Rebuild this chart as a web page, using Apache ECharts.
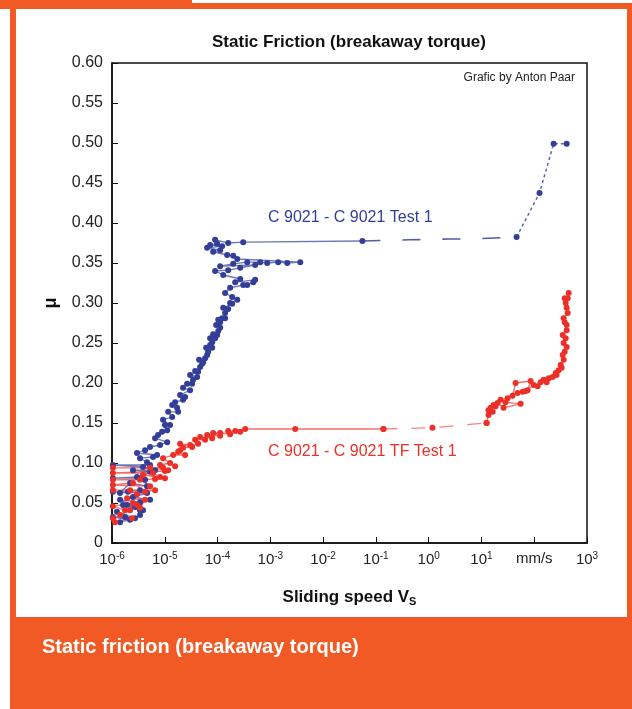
<!DOCTYPE html>
<html>
<head>
<meta charset="utf-8">
<script src="https://cdn.jsdelivr.net/npm/echarts@6.0.0/dist/echarts.min.js"></script>
<style>
  html, body { margin: 0; padding: 0; background: #fff; }
  #chart { width: 632px; height: 709px; }
</style>
</head>
<body>
<div id="chart"></div>
<script>
// sliding speed (mm/s) and friction coefficient
var blueTest = [
  [1.42e-6, 0.026], [2.20e-6, 0.029], [1.04e-6, 0.0325], [1.77e-6, 0.0325], [1.24e-6, 0.039],
  [2.73e-6, 0.031], [3.40e-6, 0.035], [3.40e-6, 0.041], [1.62e-6, 0.0475], [1.93e-6, 0.0475],
  [2.73e-6, 0.045], [3.87e-6, 0.041], [1.42e-6, 0.054], [3.40e-6, 0.051], [5.26e-6, 0.054],
  [2.50e-6, 0.0575], [4.61e-6, 0.0625], [1.04e-6, 0.064], [2.01e-6, 0.064], [3.40e-6, 0.066],
  [1.42e-6, 0.0625], [2.20e-6, 0.075], [4.61e-6, 0.071], [4.23e-6, 0.079], [2.98e-6, 0.0825],
  [1.04e-6, 0.081], [3.40e-6, 0.081], [5.26e-6, 0.089], [2.50e-6, 0.091], [6.55e-6, 0.091],
  [3.87e-6, 0.095], [1.04e-6, 0.0975], [5.26e-6, 0.0975], [4.61e-6, 0.101], [3.40e-6, 0.106],
  [6.00e-6, 0.1075], [7.15e-6, 0.11], [2.98e-6, 0.1125], [4.23e-6, 0.116], [5.26e-6, 0.12],
  [8.15e-6, 0.1225], [1.11e-5, 0.126], [6.55e-6, 0.131], [7.46e-6, 0.135], [8.89e-6, 0.139],
  [1.11e-5, 0.141], [1.01e-5, 0.1475], [1.26e-5, 0.1475], [9.29e-6, 0.154], [1.38e-5, 0.1575],
  [1.16e-5, 0.164], [1.79e-5, 0.164], [1.71e-5, 0.169], [1.38e-5, 0.1725], [1.57e-5, 0.176],
  [2.22e-5, 0.179], [2.43e-5, 0.1825], [1.95e-5, 0.185], [3.02e-5, 0.191], [2.22e-5, 0.194],
  [2.65e-5, 0.199], [3.30e-5, 0.199], [3.44e-5, 0.204], [4.10e-5, 0.2075], [3.02e-5, 0.21],
  [4.28e-5, 0.214], [3.76e-5, 0.215], [4.68e-5, 0.22], [5.11e-5, 0.224], [5.33e-5, 0.226],
  [4.48e-5, 0.229], [5.82e-5, 0.231], [6.35e-5, 0.235], [6.64e-5, 0.239], [6.08e-5, 0.244],
  [7.91e-5, 0.244], [7.24e-5, 0.2475], [7.91e-5, 0.251], [9.00e-5, 0.256], [7.24e-5, 0.256],
  [9.82e-5, 0.26], [8.26e-5, 0.261], [1.03e-4, 0.265], [1.12e-4, 0.269], [9.40e-5, 0.2725],
  [1.12e-4, 0.276], [1.03e-4, 0.279], [1.22e-4, 0.281], [1.39e-4, 0.281], [1.39e-4, 0.2875],
  [1.59e-4, 0.2925], [1.28e-4, 0.294], [1.89e-4, 0.299], [1.73e-4, 0.30], [2.36e-4, 0.304],
  [1.89e-4, 0.3075], [1.39e-4, 0.3125], [1.73e-4, 0.319], [3.06e-4, 0.3225], [3.65e-4, 0.3225],
  [4.74e-4, 0.326], [5.16e-4, 0.329], [2.16e-4, 0.326], [2.69e-4, 0.33], [1.28e-4, 0.335],
  [9.00e-5, 0.34], [1.59e-4, 0.341], [2.69e-4, 0.344], [5.16e-4, 0.3475], [1.12e-4, 0.346],
  [1.98e-4, 0.349], [3.65e-4, 0.351], [6.43e-4, 0.351], [8.73e-4, 0.35], [1.41e-3, 0.351],
  [2.09e-3, 0.35], [3.69e-3, 0.351], [2.36e-4, 0.355], [1.98e-4, 0.359], [1.52e-4, 0.36],
  [8.26e-5, 0.364], [1.12e-4, 0.366], [6.35e-5, 0.369], [1.22e-4, 0.371], [7.24e-5, 0.3725],
  [9.82e-5, 0.374], [9.00e-5, 0.379], [1.59e-4, 0.375], [3.06e-4, 0.376], [5.55e-2, 0.3775]
];
var blueTail = [[5.55e-2, 0.3775], [0.452, 0.379], [2.38, 0.38], [5.69, 0.38], [13.6, 0.381], [46.3, 0.3825]];
var blueTop = [[46.3, 0.3825], [126, 0.4375], [233, 0.499], [412, 0.499]];

var redTest = [
  [1.04e-6, 0.031], [1.14e-6, 0.026], [2.40e-6, 0.031], [1.42e-6, 0.035], [2.20e-6, 0.041],
  [1.77e-6, 0.041], [1.04e-6, 0.046], [2.50e-6, 0.05], [2.98e-6, 0.0475], [3.40e-6, 0.044],
  [4.23e-6, 0.054], [1.93e-6, 0.056], [2.98e-6, 0.061], [2.20e-6, 0.066], [1.04e-6, 0.066],
  [6.55e-6, 0.066], [4.23e-6, 0.064], [2.50e-6, 0.075], [1.04e-6, 0.0725], [5.26e-6, 0.071],
  [3.40e-6, 0.079], [1.04e-6, 0.079], [6.55e-6, 0.08], [1.01e-5, 0.081], [3.87e-6, 0.085],
  [8.15e-6, 0.0825], [6.00e-6, 0.0875], [1.04e-6, 0.0875], [1.01e-5, 0.09], [1.16e-5, 0.091],
  [5.26e-6, 0.094], [1.04e-6, 0.094], [9.29e-6, 0.094], [8.15e-6, 0.0975], [1.26e-5, 0.1],
  [1.57e-5, 0.096], [9.29e-6, 0.106], [1.44e-5, 0.11], [2.43e-5, 0.11], [1.79e-5, 0.114],
  [1.95e-5, 0.116], [2.22e-5, 0.119], [3.30e-5, 0.12], [1.95e-5, 0.124], [3.02e-5, 0.1225],
  [4.28e-5, 0.124], [3.76e-5, 0.129], [5.82e-5, 0.129], [4.68e-5, 0.1325], [7.91e-5, 0.131],
  [6.35e-5, 0.135], [1.12e-4, 0.134], [8.26e-5, 0.1375], [1.12e-4, 0.1375], [1.73e-4, 0.136],
  [1.59e-4, 0.14], [2.69e-4, 0.139], [2.16e-4, 0.14], [3.34e-4, 0.1425], [2.96e-3, 0.1425],
  [0.139, 0.1425]
];
var redTail = [[0.139, 0.1425], [1.18, 0.144], [12.5, 0.15]];
var redHigh = [
  [12.5, 0.15], [13.6, 0.16], [13.6, 0.166], [16.3, 0.164], [14.9, 0.169], [18.5, 0.171],
  [17.0, 0.1725], [20.2, 0.175], [26.2, 0.169], [55.2, 0.174], [28.6, 0.176], [23.0, 0.179],
  [31.3, 0.181], [38.9, 0.184], [44.4, 0.2], [85.5, 0.2025], [75.0, 0.191], [48.4, 0.1875],
  [60.3, 0.189], [68.7, 0.19], [97.5, 0.1975], [116, 0.196], [132, 0.201], [172, 0.201],
  [151, 0.204], [188, 0.206], [223, 0.2075], [266, 0.21], [255, 0.2125], [290, 0.216],
  [331, 0.219], [317, 0.2225], [361, 0.229], [346, 0.235], [378, 0.239], [412, 0.245],
  [361, 0.25], [394, 0.256], [346, 0.26], [412, 0.266], [412, 0.2725], [378, 0.276],
  [361, 0.281], [431, 0.2875], [412, 0.294], [394, 0.30], [378, 0.306], [431, 0.306],
  [450, 0.3125]
];

var blue = '#323e97';
var red = '#ec3027';
var orange = '#f15a24';
var font = 'Liberation Sans, Arial, sans-serif';

var myChart = echarts.init(document.getElementById('chart'));

function pts(data, color) {
  return {
    type: 'line', data: data, symbol: 'circle', symbolSize: 6,
    itemStyle: {color: color}, lineStyle: {color: color, width: 1.3, opacity: 0.7},
    z: 3
  };
}

var option = {
  animation: false,
  backgroundColor: '#fff',
  textStyle: {fontFamily: font},
  grid: {left: 112, right: 45, top: 63, bottom: 166, show: true, borderColor: '#111', borderWidth: 1.5},
  xAxis: {
    type: 'log', logBase: 10, min: 1e-6, max: 1000, splitNumber: 9,
    axisLine: {lineStyle: {color: '#111', width: 1.5}},
    axisTick: {inside: true, length: 6, lineStyle: {color: '#111'}},
    minorTick: {show: false},
    splitLine: {show: false},
    axisLabel: {
      margin: 8, color: '#222',
      formatter: function (v) {
        var e = Math.round(Math.log10(v));
        if (e === 2) return '{b|mm/s}';
        return '{b|10}{s|' + e + '}';
      },
      rich: {
        b: {fontSize: 15, color: '#222', fontFamily: font},
        s: {fontSize: 10, color: '#222', fontFamily: font, verticalAlign: 'top', padding: [0, 0, 8, 0]}
      }
    },
    name: 'Sliding speed V{sub|S}', nameLocation: 'middle', nameGap: 45,
    nameTextStyle: {
      fontSize: 17, fontWeight: 'bold', color: '#111', fontFamily: font,
      rich: {sub: {fontSize: 11, fontWeight: 'bold', color: '#111', fontFamily: font, padding: [8, 0, 0, 0]}}
    }
  },
  yAxis: {
    type: 'value', min: 0, max: 0.6, interval: 0.05,
    axisLine: {lineStyle: {color: '#111', width: 1.5}},
    axisTick: {inside: true, length: 6, lineStyle: {color: '#111'}},
    splitLine: {show: false},
    axisLabel: {
      margin: 9, fontSize: 16, color: '#222',
      formatter: function (v) { return v === 0 ? '0' : v.toFixed(2); }
    },
    name: 'μ', nameLocation: 'middle', nameRotate: 90, nameGap: 52,
    nameTextStyle: {fontSize: 18, fontWeight: 'bold', color: '#111'}
  },
  graphic: [
    {type: 'rect', z: -10, shape: {x: 10, y: 3, width: 622, height: 706}, style: {fill: orange}},
    {type: 'rect', z: -10, shape: {x: 0, y: 0, width: 192, height: 9}, style: {fill: orange}},
    {type: 'rect', z: -9, shape: {x: 16, y: 9, width: 611, height: 608}, style: {fill: '#fff'}},
    {type: 'text', left: 42, top: 637, style: {text: 'Static friction (breakaway torque)', fill: '#fff',
      font: 'bold 20px ' + font}},
    {type: 'text', x: 349, y: 42, style: {text: 'Static Friction (breakaway torque)', fill: '#111',
      font: 'bold 17px ' + font, textAlign: 'center', textVerticalAlign: 'middle'}},
    {type: 'text', x: 575, y: 78, style: {text: 'Grafic by Anton Paar', fill: '#222',
      font: '12px ' + font, textAlign: 'right', textVerticalAlign: 'middle'}},
    {type: 'text', x: 268, y: 218, style: {text: 'C 9021 - C 9021 Test 1', fill: blue,
      font: '16px ' + font, textAlign: 'left', textVerticalAlign: 'middle'}},
    {type: 'text', x: 268, y: 452, style: {text: 'C 9021 - C 9021 TF Test 1', fill: red,
      font: '16px ' + font, textAlign: 'left', textVerticalAlign: 'middle'}}
  ],
  series: [
    pts(blueTest, blue),
    {type: 'line', data: blueTail, symbol: 'none', z: 2,
      lineStyle: {color: blue, width: 1.6, opacity: 0.85, type: [18, 22]}},
    {type: 'line', data: blueTop, symbol: 'circle', symbolSize: 6, z: 2, itemStyle: {color: blue},
      lineStyle: {color: blue, width: 1.5, opacity: 0.8, type: [3, 3]}},
    pts(redTest, red),
    {type: 'line', data: redTail, symbol: 'circle', symbolSize: 6, z: 2, itemStyle: {color: red},
      lineStyle: {color: red, width: 1.3, opacity: 0.6, type: [14, 14]}},
    pts(redHigh, red)
  ]
};

myChart.setOption(option);
</script>
</body>
</html>
